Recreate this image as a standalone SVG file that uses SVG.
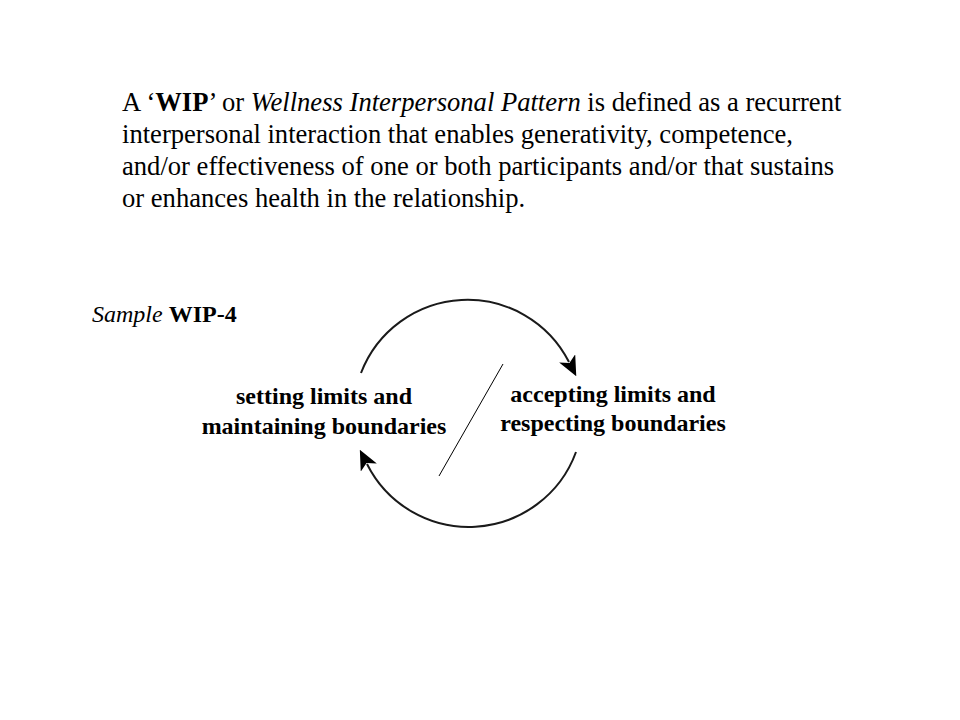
<svg xmlns="http://www.w3.org/2000/svg" width="960" height="720" viewBox="0 0 960 720">
<defs>
<style>
.para{font-family:"Liberation Serif","Times New Roman",serif;font-size:26.6px;fill:#000}
.lbl{font-family:"Liberation Serif","Times New Roman",serif;font-size:24px;font-weight:bold;fill:#000;text-anchor:middle}
.cap{font-family:"Liberation Serif","Times New Roman",serif;font-size:24px;fill:#000}
.arc{fill:none;stroke:#1a1a1a;stroke-width:2}
</style>
<marker id="ah" markerUnits="userSpaceOnUse" markerWidth="20" markerHeight="18" refX="4" refY="9" orient="auto" viewBox="0 0 20 18">
<path d="M0,0 L20,9 L0,18 L5,9 z" fill="#000"/>
</marker>
</defs>
<rect width="960" height="720" fill="#fff"/>
<g id="definition">
<text class="para" x="122" y="111">A ‘<tspan font-weight="bold">WIP</tspan>’ or <tspan font-style="italic">Wellness Interpersonal Pattern</tspan> is defined as a recurrent</text>
<text class="para" x="122" y="143">interpersonal interaction that enables generativity, competence,</text>
<text class="para" x="122" y="175">and/or effectiveness of one or both participants and/or that sustains</text>
<text class="para" x="122" y="207">or enhances health in the relationship.</text>
</g>
<g id="caption">
<text class="cap" x="92" y="322"><tspan font-style="italic">Sample</tspan> <tspan font-weight="bold">WIP-4</tspan></text>
</g>
<g id="node-setting">
<text class="lbl" x="324" y="404">setting limits and</text>
<text class="lbl" x="324" y="434">maintaining boundaries</text>
</g>
<g id="node-accepting">
<text class="lbl" x="613" y="402">accepting limits and</text>
<text class="lbl" x="613" y="431">respecting boundaries</text>
</g>
<g id="connectors">
<path class="arc" d="M361,373 A114,114 0 0 1 569,362" marker-end="url(#ah)"/>
<path class="arc" d="M576,452 A114,114 0 0 1 367,464" marker-end="url(#ah)"/>
<line x1="503" y1="364" x2="439" y2="476" stroke="#000" stroke-width="1"/>
</g>
</svg>
